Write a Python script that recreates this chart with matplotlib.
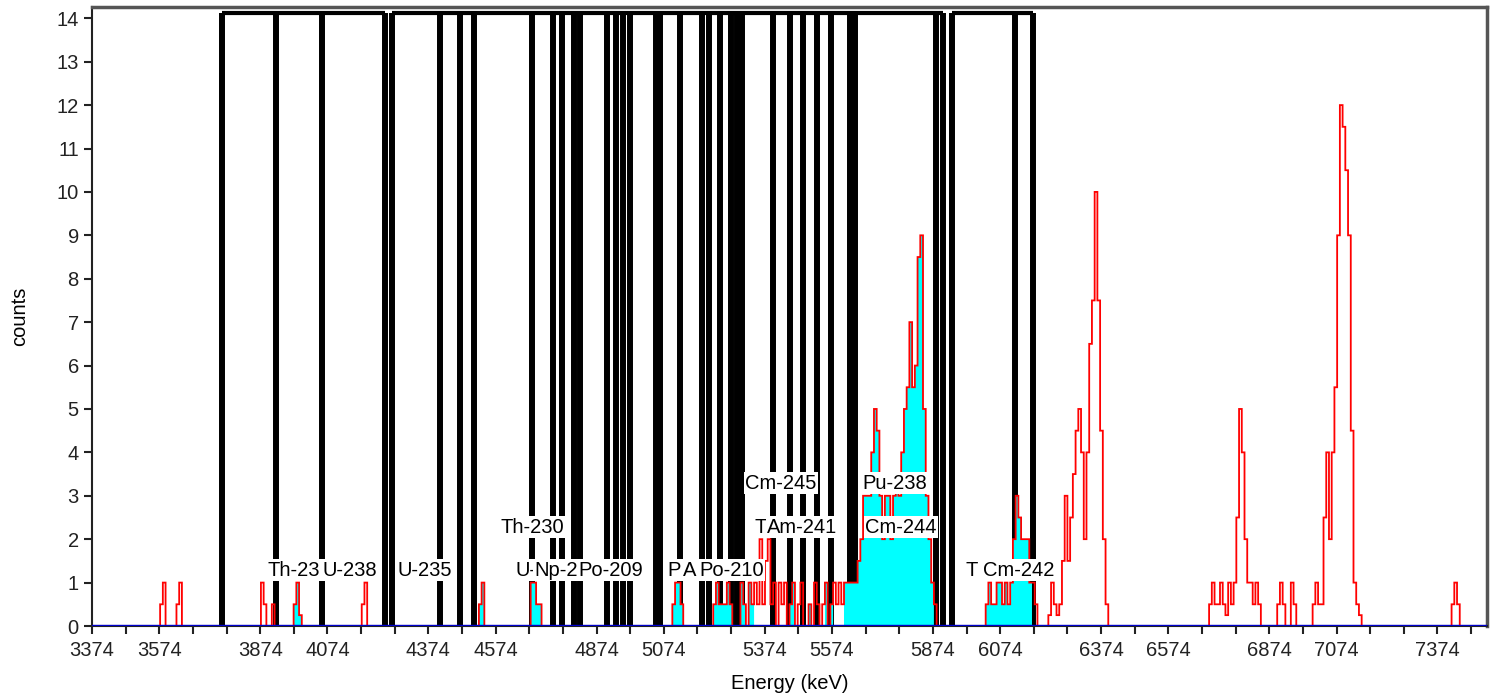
import numpy as np
import matplotlib
matplotlib.use("Agg")
from matplotlib import pyplot as plt

plt.rcParams['font.family'] = ['Liberation Sans', 'DejaVu Sans']

### spectrum: 512 channels of 8.1 keV starting at 3374 keV
e0 = 3374.0
ch_width = 8.1
n_ch = 512

# non-zero channels (channel index, counts)
low_ch = [25, 26, 31, 32, 62, 63, 66, 74, 75, 76, 99, 100, 142, 143,
          161, 162, 163, 164, 213, 214, 215, 216, 228, 229, 230, 231, 232, 233, 234]
low_ct = [0.5, 1, 0.5, 1, 1, 0.5, 0.5, 0.5, 1, 0.25, 0.5, 1, 0.5, 1,
          1, 1, 0.5, 0.5, 0.5, 1, 1, 0.5, 0.5, 1, 0.5, 0.5, 0.5, 1, 0.5]

mid_ch = list(range(238, 310))
mid_ct = [1, 0.5, 0, 1, 0.5, 1, 0.5, 2, 0.5, 1.5, 2, 0.5, 1, 0, 1, 0.5, 1, 0, 0.5, 1,
          0, 0.5, 1, 0, 0, 0.5, 0, 1, 0.5, 0, 0.5, 1, 0, 0.5, 1, 0.5, 1, 0.5, 1, 1,
          1, 1, 1, 1.5, 2, 3, 3, 3, 4, 5, 4.5, 3, 2, 3, 3, 2, 3, 3.5, 3, 4,
          5, 5.5, 7, 5.5, 6, 8.5, 9, 5, 3, 2, 1, 0.5]

cm242_ch = list(range(328, 347))
cm242_ct = [0.5, 1, 0.5, 0.5, 1, 1, 0.5, 1, 0.5, 1, 2, 3, 2.5, 2, 2, 2, 1, 1, 0.5]

peak_a_ch = list(range(351, 373))
peak_a_ct = [0.25, 1, 0.5, 0.25, 0.5, 1.5, 3, 1.5, 2.5, 3.5, 4.5, 5, 4, 2, 4, 6.5,
             7.5, 10, 7.5, 4.5, 2, 0.5]

peak_b_ch = list(range(410, 429)) + [435, 436, 437, 440, 441]
peak_b_ct = [0.5, 1, 0.5, 0.5, 1, 0.5, 0.25, 1, 0.5, 1, 2.5, 5, 4, 2, 1, 1, 0.5, 1, 0.5,
             0.5, 1, 0.5, 1, 0.5]

peak_c_ch = [448, 449, 450] + list(range(451, 466)) + [499, 500, 501]
peak_c_ct = [0.5, 1, 0.5, 0.5, 2.5, 4, 2, 4, 5.5, 9, 12, 11.5, 10.5, 9, 4.5, 1, 0.5, 0.25,
             0.5, 1, 0.5]

# energy windows shown with cyan fill
cyan_lo = [3967, 4525, 4670, 5100, 5215, 5305, 5440, 5495, 5555, 5610, 6025]
cyan_hi = [4000, 4545, 4715, 5135, 5285, 5345, 5475, 5515, 5575, 5880, 6165]

# ROI marker edges (keV) and the spans of their top bars
roi_edges = [3761, 3921, 4058, 4244, 4266, 4409, 4468, 4510, 4682, 4745, 4772, 4807,
             4825, 4905, 4932, 4953, 4974, 5051, 5063, 5122, 5188, 5209, 5241, 5274,
             5292, 5307, 5399, 5450, 5488, 5530, 5571, 5628, 5643, 5884, 5905,
             5931, 6119, 6172]
roi_top_lo = [3761, 4266, 5931]
roi_top_hi = [4244, 5905, 6172]
roi_height = 14.12

# nuclide labels as they show (partly hidden by the next box): text, left edge (keV), height
lab_text = ['Th-23', 'U-238', 'U-235', 'Th-230', 'U-', 'Np-2', 'Po-209',
            'P', 'A', 'Po-210', 'Cm-245', 'T', 'Am-241',
            'Pu-238', 'Cm-244', 'T', 'Cm-242']
lab_x = [3897, 4058, 4281, 4587, 4632, 4690, 4819,
         5084, 5131, 5179, 5316, 5343, 5381,
         5664, 5673, 5970, 6023]
lab_y = [1.29, 1.29, 1.29, 2.28, 1.29, 1.29, 1.29,
         1.29, 1.29, 1.29, 3.29, 2.28, 2.28,
         3.29, 2.28, 1.29, 1.29]

tick_labels = [3374, 3574, 3874, 4074, 4374, 4574, 4874, 5074, 5374, 5574, 5874,
               6074, 6374, 6574, 6874, 7074, 7374]

#################
##### BUILD
#################

counts = np.zeros(n_ch)
for chs, cts in [(low_ch, low_ct), (mid_ch, mid_ct), (cm242_ch, cm242_ct),
                 (peak_a_ch, peak_a_ct), (peak_b_ch, peak_b_ct), (peak_c_ch, peak_c_ct)]:
    counts[chs] = cts

edges = e0 + ch_width * np.arange(n_ch + 1)
centers = 0.5 * (edges[:-1] + edges[1:])
in_cyan = np.zeros(n_ch, dtype=bool)
for lo, hi in zip(cyan_lo, cyan_hi):
    in_cyan |= (centers >= lo) & (centers <= hi)
cyan_counts = np.where(in_cyan, counts, 0)

#################
##### PLOT
#################

fig = plt.figure(figsize=(14.96, 6.98), dpi=100)
ax = fig.add_axes([92 / 1496, 1 - 626 / 698, (1487 - 92) / 1496, (626 - 7) / 698])

# ROI markers
ax.vlines(roi_edges, 0, roi_height, color='black', lw=4.3, zorder=1)
ax.hlines([roi_height] * len(roi_top_lo), roi_top_lo, roi_top_hi, color='black', lw=3.0, zorder=1)

ax.stairs(cyan_counts, edges, fill=True, color='#00ffff', zorder=2)
ax.stairs(counts, edges, color='#ff0000', lw=1.3, zorder=3)
ax.axhline(0, color='#0000cc', lw=2.4, zorder=4)

for t, x, y in zip(lab_text, lab_x, lab_y):
    ax.text(x, y, t, ha='left', va='center', fontsize=14.5, color='black', zorder=5,
            bbox=dict(facecolor='white', edgecolor='none', pad=1.0))

ax.set_xlim(e0, edges[-1])
ax.set_ylim(0, 14.26)
ax.set_xticks(np.arange(3374, 7500, 100))
ax.set_xticklabels([str(v) if v in tick_labels else '' for v in range(3374, 7500, 100)])
ax.set_yticks(range(0, 15))
ax.tick_params(direction='out', length=6, width=1.5, labelsize=14.5, colors='#222222')
ax.tick_params(axis='x', pad=5)

for side in ['left', 'bottom']:
    ax.spines[side].set_linewidth(1.5)
    ax.spines[side].set_color('#222222')
for side in ['top', 'right']:
    ax.spines[side].set_linewidth(2.5)
    ax.spines[side].set_color('#555555')

ax.set_xlabel('Energy (keV)', fontsize=14.5, labelpad=10)
ax.set_ylabel('counts', fontsize=14.5, labelpad=20)

fig.savefig('out.png', dpi=100)
